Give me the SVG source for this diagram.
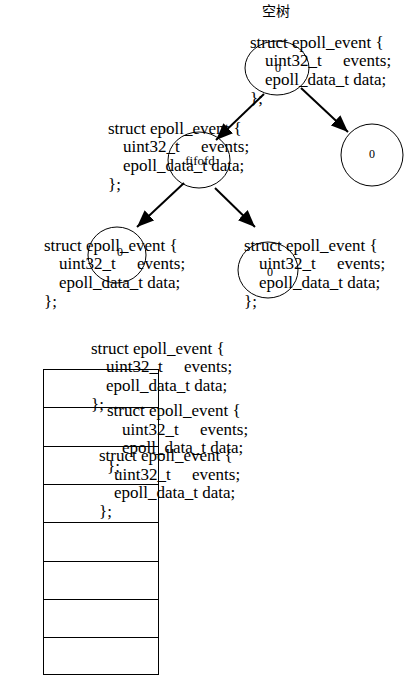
<svg xmlns="http://www.w3.org/2000/svg" width="405" height="676" viewBox="0 0 405 676">
<style>
.t{font-family:"Liberation Serif","Times New Roman",serif;font-size:17px;fill:#000}
.n{font-family:"Liberation Serif","Times New Roman",serif;font-size:12px;fill:#000;text-anchor:middle}
.cjk{font-family:"Liberation Serif","Noto Sans CJK SC",sans-serif;font-size:14px;fill:#000}
.c{fill:none;stroke:#000;stroke-width:1}
.a{fill:none;stroke:#000;stroke-width:2;marker-end:url(#ah)}
.r{fill:none;stroke:#000;stroke-width:1}
</style>
<defs>
<marker id="ah" markerUnits="userSpaceOnUse" markerWidth="18" markerHeight="14" refX="17" refY="7" orient="auto">
<path d="M0,0 L17,7 L0,14 z" fill="#000"/>
</marker>
</defs>
<rect width="405" height="676" fill="#fff"/>
<g id="title"><text class="cjk" x="262" y="16">空树</text></g>
<g id="root">
<text class="t" x="250" y="47.5">struct epoll_event {</text>
<text class="t" x="265" y="66.2">uint32_t<tspan x="343">events;</tspan></text>
<text class="t" x="265" y="84.9">epoll_data_t data;</text>
<text class="t" x="250" y="103.6">};</text>
<ellipse class="c" cx="277" cy="68" rx="32" ry="27"/>
<text class="n" x="278" y="72">0</text>
</g>
<g id="right0">
<ellipse class="c" cx="372" cy="155" rx="31" ry="31"/>
<text class="n" x="372" y="157.5">0</text>
</g>
<g id="fifofd">
<text class="t" x="108" y="133.5">struct epoll_event {</text>
<text class="t" x="123" y="152.2">uint32_t<tspan x="201">events;</tspan></text>
<text class="t" x="123" y="170.9">epoll_data_t data;</text>
<text class="t" x="108" y="189.6">};</text>
<ellipse class="c" cx="199" cy="160" rx="31" ry="28"/>
<text class="n" x="200" y="165" style="font-size:13px">fifofd</text>
</g>
<g id="left0">
<text class="t" x="44" y="250.5">struct epoll_event {</text>
<text class="t" x="59" y="269.2">uint32_t<tspan x="137">events;</tspan></text>
<text class="t" x="59" y="287.9">epoll_data_t data;</text>
<text class="t" x="44" y="306.6">};</text>
<ellipse class="c" cx="117" cy="255" rx="29" ry="28"/>
<text class="n" x="120" y="255.5">0</text>
</g>
<g id="right1">
<text class="t" x="244" y="250.5">struct epoll_event {</text>
<text class="t" x="259" y="269.2">uint32_t<tspan x="337">events;</tspan></text>
<text class="t" x="259" y="287.9">epoll_data_t data;</text>
<text class="t" x="244" y="306.6">};</text>
<ellipse class="c" cx="268" cy="270" rx="30" ry="28"/>
<text class="n" x="270" y="275.5">0</text>
</g>
<g id="list">
<rect class="r" x="43.5" y="369.5" width="115" height="305"/>
<line class="r" x1="43" y1="407.5" x2="158" y2="407.5"/>
<line class="r" x1="43" y1="446.5" x2="158" y2="446.5"/>
<line class="r" x1="43" y1="484.5" x2="158" y2="484.5"/>
<line class="r" x1="43" y1="522.5" x2="158" y2="522.5"/>
<line class="r" x1="43" y1="561.5" x2="158" y2="561.5"/>
<line class="r" x1="43" y1="599.5" x2="158" y2="599.5"/>
<line class="r" x1="43" y1="637.5" x2="158" y2="637.5"/>
</g>
<g id="item1">
<text class="t" x="91" y="353.5">struct epoll_event {</text>
<text class="t" x="106" y="372.2">uint32_t<tspan x="184">events;</tspan></text>
<text class="t" x="106" y="390.9">epoll_data_t data;</text>
<text class="t" x="91" y="409.6">};</text>
</g>
<g id="item2">
<text class="t" x="107" y="416">struct epoll_event {</text>
<text class="t" x="122" y="434.7">uint32_t<tspan x="200">events;</tspan></text>
<text class="t" x="122" y="453.4">epoll_data_t data;</text>
<text class="t" x="107" y="472.1">};</text>
</g>
<g id="item3">
<text class="t" x="99" y="461">struct epoll_event {</text>
<text class="t" x="114" y="479.7">uint32_t<tspan x="192">events;</tspan></text>
<text class="t" x="114" y="498.4">epoll_data_t data;</text>
<text class="t" x="99" y="517.1">};</text>
</g>
<g id="connectors">
<line class="a" x1="264" y1="94" x2="216" y2="140"/>
<line class="a" x1="301" y1="88" x2="348" y2="132"/>
<line class="a" x1="184" y1="183" x2="137" y2="227"/>
<line class="a" x1="215" y1="188" x2="255" y2="227"/>
</g>
</svg>
